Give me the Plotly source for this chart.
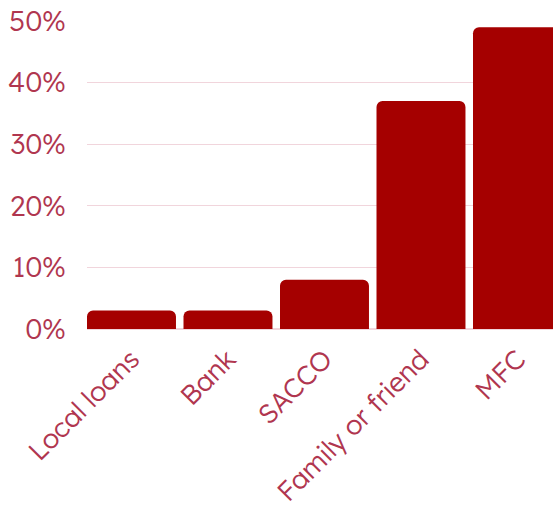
import plotly.graph_objects as go

categories = ["Local loans", "Bank", "SACCO", "Family or friend", "MFC"]
values = [3, 3, 8, 37, 49]
y_ticks = [0, 10, 20, 30, 40, 50]
y_tick_labels = ["0%", "10%", "20%", "30%", "40%", "50%"]

bar_color = "#a50000"
text_color = "#b0364f"
grid_color = "#f1d5dc"
font_family = "Lexend, 'Open Sans', sans-serif"

fig = go.Figure(
    go.Bar(
        x=categories,
        y=values,
        marker=dict(color=bar_color, cornerradius=6, line=dict(width=0)),
    )
)

fig.update_layout(
    width=553,
    height=507,
    margin=dict(l=87, r=0, t=21, b=178),
    paper_bgcolor="white",
    plot_bgcolor="white",
    bargap=0.078,
    showlegend=False,
    font=dict(family=font_family, color=text_color, size=28, weight=300),
)

fig.update_xaxes(
    range=[-0.461, 4.368],
    tickangle=-45,
    tickfont=dict(size=27, color=text_color, weight=300),
    showgrid=False,
    showline=False,
    ticks="",
    ticklabelstandoff=8,
    automargin=False,
)

fig.update_yaxes(
    range=[0, 50],
    tickvals=y_ticks,
    ticktext=y_tick_labels,
    tickfont=dict(size=28, color=text_color, weight=300),
    showgrid=True,
    gridcolor=grid_color,
    gridwidth=1,
    zeroline=True,
    zerolinecolor=grid_color,
    showline=False,
    ticks="",
    ticklabelstandoff=20,
    ticklabeloverflow="allow",
    automargin=False,
)

fig.write_html(
    "out.html",
    config={"displayModeBar": False},
    post_script="document.body.style.margin='0';document.body.style.overflow='hidden';",
)
